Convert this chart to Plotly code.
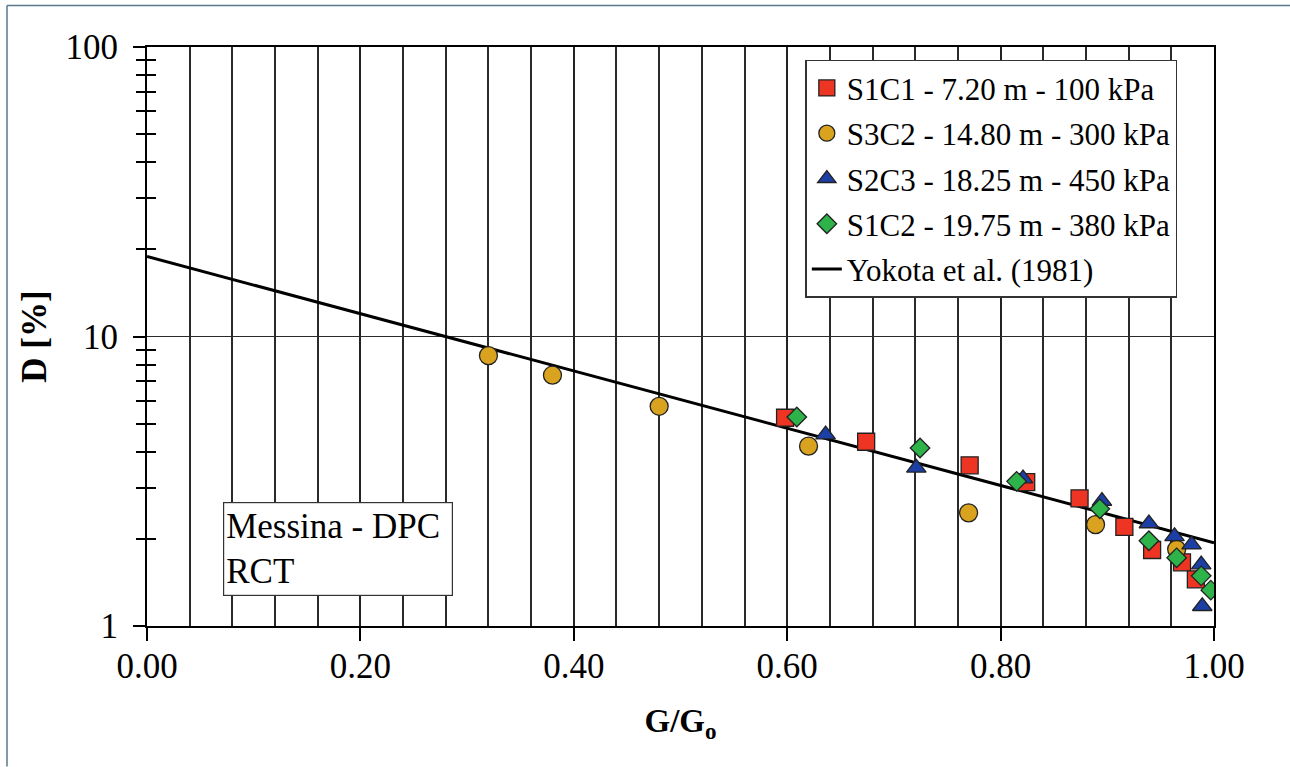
import plotly.graph_objects as go

# ---- data ----
s1c1_x = [0.598, 0.674, 0.771, 0.824, 0.874, 0.916, 0.942, 0.970, 0.983]
s1c1_d = [5.24, 4.33, 3.59, 3.14, 2.76, 2.20, 1.83, 1.66, 1.45]

s3c2_x = [0.320, 0.380, 0.480, 0.620, 0.770, 0.889, 0.965]
s3c2_d = [8.59, 7.35, 5.74, 4.18, 2.46, 2.24, 1.84]

s2c3_x = [0.636, 0.721, 0.821, 0.895, 0.939, 0.963, 0.979, 0.988, 0.989]
s2c3_d = [4.58, 3.52, 3.23, 2.70, 2.26, 2.04, 1.91, 1.63, 1.17]

s1c2_x = [0.609, 0.7245, 0.815, 0.893, 0.939, 0.965, 0.988, 0.997]
s1c2_d = [5.27, 4.12, 3.16, 2.54, 1.97, 1.72, 1.49, 1.33]

yokota_x = [0.0, 1.0]
yokota_d = [18.9, 1.94]

names = ["S1C1 - 7.20 m - 100 kPa", "S3C2 - 14.80 m - 300 kPa",
         "S2C3 - 18.25 m - 450 kPa", "S1C2 - 19.75 m - 380 kPa",
         "Yokota et al. (1981)"]

x_ticks = [0.0, 0.2, 0.4, 0.6, 0.8, 1.0]
x_ticktext = ["0.00", "0.20", "0.40", "0.60", "0.80", "1.00"]
y_ticks = [1, 10, 100]
y_ticktext = ["1", "10", "100"]
y_minor = [2, 3, 4, 5, 6, 7, 8, 9, 20, 30, 40, 50, 60, 70, 80, 90]

FONT = "Liberation Serif"
edge = dict(color="#222222", width=1.3)

fig = go.Figure()

fig.add_trace(go.Scatter(x=yokota_x, y=yokota_d, mode="lines", name=names[4],
                         line=dict(color="black", width=3), legendrank=5,
                         legendgroup="g5"))
fig.add_trace(go.Scatter(x=s1c1_x, y=s1c1_d, mode="markers", name=names[0],
                         marker=dict(symbol="square", size=17, color="#ee3524", line=edge),
                         legendrank=1, legendgroup="g1"))
fig.add_trace(go.Scatter(x=s3c2_x, y=s3c2_d, mode="markers", name=names[1],
                         marker=dict(symbol="circle", size=18, color="#d9a21f", line=edge),
                         legendrank=2, legendgroup="g2"))
fig.add_trace(go.Scatter(x=s2c3_x, y=s2c3_d, mode="markers", name=names[2],
                         marker=dict(symbol="triangle-up", size=17, color="#1c3fa5", line=edge),
                         legendrank=3, legendgroup="g3"))
fig.add_trace(go.Scatter(x=s1c2_x, y=s1c2_d, mode="markers", name=names[3],
                         marker=dict(symbol="diamond", size=15, color="#2db34a", line=edge),
                         legendrank=4, legendgroup="g4"))
# empty trace for the overlaid axis carrying the inner half of the minor ticks
fig.add_trace(go.Scatter(x=[None], y=[None], yaxis="y2", showlegend=False, hoverinfo="skip"))

fig.update_layout(
    width=1290, height=767,
    margin=dict(l=147, r=76, t=47, b=141),
    paper_bgcolor="white", plot_bgcolor="white",
    font=dict(family=FONT, color="black", size=30),
    showlegend=True,
    legend=dict(x=0.617, y=0.978, xanchor="left", yanchor="top",
                bgcolor="white", bordercolor="#333333", borderwidth=1.5,
                font=dict(family=FONT, size=31, color="black"),
                traceorder="grouped", tracegroupgap=2, itemwidth=30),
    xaxis=dict(range=[0, 1], tickvals=x_ticks, ticktext=x_ticktext,
               showgrid=True, gridcolor="#222222", gridwidth=1.6,
               minor=dict(dtick=0.04, tick0=0, showgrid=True, gridcolor="#2a2a2a",
                          gridwidth=1.5, ticks=""),
               ticks="outside", ticklen=13, tickwidth=1.5, tickcolor="black",
               ticklabelstandoff=-5,
               showline=True, linecolor="black", linewidth=2, mirror=True,
               zeroline=False,
               tickfont=dict(family=FONT, size=35),
               title=dict(text="<b>G/G<sub>o</sub></b>", standoff=24,
                          font=dict(family=FONT, size=33))),
    yaxis=dict(type="log", range=[0, 2], tickvals=y_ticks, ticktext=y_ticktext,
               showgrid=True, gridcolor="#2a2a2a", gridwidth=1.4,
               ticks="outside", ticklen=12, tickwidth=1.5, tickcolor="black",
               ticklabelstandoff=8,
               minor=dict(tickvals=y_minor, ticks="outside", ticklen=9,
                          tickwidth=1.5, tickcolor="black", showgrid=False),
               showline=True, linecolor="black", linewidth=2, mirror=True,
               zeroline=False,
               tickfont=dict(family=FONT, size=35),
               title=dict(text="<b>D [%]</b>", standoff=8,
                          font=dict(family=FONT, size=35))),
    yaxis2=dict(type="log", range=[0, 2], overlaying="y", side="left",
                showticklabels=False, showgrid=False, zeroline=False,
                showline=False, ticks="",
                minor=dict(tickvals=y_minor, ticks="inside", ticklen=9,
                           tickwidth=1.5, tickcolor="black", showgrid=False)),
)

fig.add_annotation(text="Messina - DPC<br>RCT", xref="paper", yref="paper",
                   x=0.0712, y=0.052, xanchor="left", yanchor="bottom",
                   align="left", showarrow=False, width=224, height=88,
                   valign="middle",
                   font=dict(family=FONT, size=35, color="black"),
                   bgcolor="white", bordercolor="#333333", borderwidth=1.2,
                   borderpad=2)

# thin frame around the figure (left and top edges)
fig.add_shape(type="line", xref="paper", yref="paper",
              x0=-140 / 1067, x1=-140 / 1067, y0=(626.5 - 767) / 579, y1=(626.5 - 6) / 579,
              line=dict(color="#58778c", width=1.5))
fig.add_shape(type="line", xref="paper", yref="paper",
              x0=-140 / 1067, x1=(1290 - 147) / 1067, y0=(626.5 - 6) / 579, y1=(626.5 - 6) / 579,
              line=dict(color="#58778c", width=1.5))

fig.write_html("out.html", config={"displayModeBar": False},
               post_script="document.body.style.margin='0px';")
